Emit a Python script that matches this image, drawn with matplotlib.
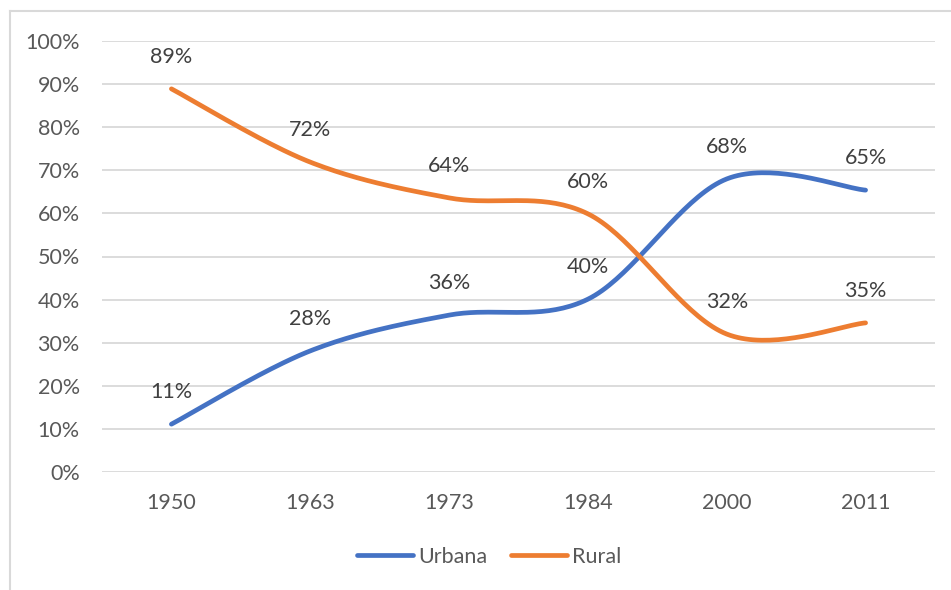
import numpy as np
import matplotlib.pyplot as plt
from matplotlib.lines import Line2D

years = ['1950', '1963', '1973', '1984', '2000', '2011']
urbana = [11.1, 28.1, 36.4, 40.1, 68.0, 65.4]
rural = [88.9, 71.9, 63.6, 59.9, 32.0, 34.6]

BLUE = '#4472C4'
ORANGE = '#ED7D31'
GRID = '#D9D9D9'
TXT = '#595959'
FS = 15.5

plt.rcParams['font.family'] = ['Lato', 'DejaVu Sans']


def smooth(xs, ys, n=40):
  # excel-like smoothed line: cardinal bezier through every point
  P = np.column_stack([xs, ys]).astype(float)
  Q = np.vstack([P[0], P, P[-1]])
  t = np.linspace(0, 1, n)[:, None]
  out = []
  for i in range(len(P) - 1):
    p0, p3 = Q[i + 1], Q[i + 2]
    p1 = p0 + (Q[i + 2] - Q[i]) / 6.0
    p2 = p3 - (Q[i + 3] - Q[i + 1]) / 6.0
    seg = (1 - t)**3 * p0 + 3 * (1 - t)**2 * t * p1 + 3 * (1 - t) * t**2 * p2 + t**3 * p3
    out.append(seg if i == 0 else seg[1:])
  c = np.vstack(out)
  return c[:, 0], c[:, 1]


W, H = 951, 590
fig = plt.figure(figsize=(W / 100, H / 100), dpi=100)
ax = fig.add_axes([102 / W, (H - 472) / H, (935 - 102) / W, (472 - 41) / H])

x = np.arange(len(years))
for vals, col, name in [(urbana, BLUE, 'Urbana'), (rural, ORANGE, 'Rural')]:
  sx, sy = smooth(x, vals)
  ax.plot(sx, sy, color=col, lw=3.4, solid_capstyle='round', label=name, clip_on=False)
  for xi, v in zip(x, vals):
    ax.annotate('%d%%' % round(v), (xi, v), xytext=(0, 23), textcoords='offset points',
                ha='center', va='center', fontsize=FS, color='#404040')

ax.set_xlim(-0.5, len(years) - 0.5)
ax.set_ylim(0, 100)
ax.set_yticks(np.arange(0, 101, 10))
ax.set_yticklabels(['%d%%' % v for v in range(0, 101, 10)])
ax.set_xticks(x)
ax.set_xticklabels(years)
ax.tick_params(length=0, labelsize=FS, colors=TXT)
ax.tick_params(axis='y', pad=16)
ax.tick_params(axis='x', pad=15)
ax.grid(axis='y', color=GRID, lw=1.3)
ax.set_axisbelow(True)
for s in ax.spines.values():
  s.set_visible(False)

leg = fig.legend(loc='center', bbox_to_anchor=(489 / W, (H - 557) / H), ncol=2, frameon=False,
                 fontsize=FS, handlelength=2.6, handletextpad=0.25, columnspacing=1.1)
for t in leg.get_texts():
  t.set_color(TXT)

# outer chart frame (only top and left are visible in the crop)
fig.add_artist(Line2D([9.5 / W, 9.5 / W], [0, (H - 11) / H], color=GRID, lw=1.5, transform=fig.transFigure))
fig.add_artist(Line2D([9.5 / W, 1], [(H - 11) / H, (H - 11) / H], color=GRID, lw=1.5, transform=fig.transFigure))

fig.savefig('out.png', dpi=100)
